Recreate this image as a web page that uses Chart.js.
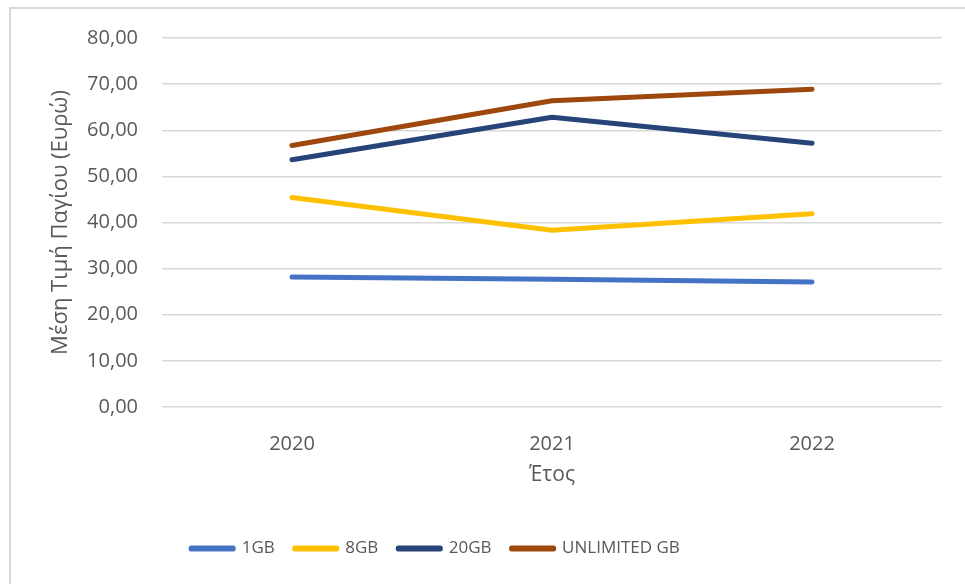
<!DOCTYPE html>
<html>
<head>
<meta charset="utf-8">
<script src="https://cdn.jsdelivr.net/npm/chart.js@4"></script>
<style>
body{margin:0;background:#fff;}
#wrap{position:relative;width:965px;height:584px;overflow:hidden;background:#fff;}
#frame{position:absolute;left:9px;top:7px;width:1000px;height:1000px;border:2px solid #d9d9d9;box-sizing:border-box;}
#emiChart{position:absolute;left:0;top:0;}
</style>
</head>
<body>
<div id="wrap">
<div id="frame"></div>
<canvas id="emiChart" width="965" height="584"></canvas>
</div>
<script>
const years=["2020","2021","2022"];

const gb1=[28.2,27.7,27.1];
const gb8=[45.4,38.3,41.9];
const gb20=[53.6,62.8,57.2];
const unlimited=[56.7,66.4,68.9];

const seriesNames=["1GB","8GB","20GB","UNLIMITED GB"];
const seriesColors=["#4472c4","#ffc000","#264478","#9e480e"];

const yTitle="Μέση Τιμή Παγίου (Ευρώ)";
const xTitle="Έτος";

const ctx=document.getElementById("emiChart");

const textColor="#595959";
const fontFamily="'Open Sans', sans-serif";

function makeSet(i,data){
return {
label:seriesNames[i],
data:data,
borderColor:seriesColors[i],
backgroundColor:seriesColors[i],
borderWidth:5,
borderCapStyle:'round',
borderJoinStyle:'round',
pointRadius:0,
pointHoverRadius:0,
tension:0
};
}

// move legend so it sits where the original one was
const legendShift={
id:'legendShift',
beforeDraw(chart){
const l=chart.legend;
l.left=10;
l.right=861;
}
};

new Chart(ctx,{
type:'line',
data:{
labels:years,
datasets:[makeSet(0,gb1),makeSet(1,gb8),makeSet(2,gb20),makeSet(3,unlimited)]
},
plugins:[legendShift],
options:{
responsive:false,
animation:false,
layout:{padding:{left:10,right:23,top:38,bottom:17}},
scales:{
x:{
offset:true,
grid:{display:false},
border:{display:false},
ticks:{color:textColor,font:{family:fontFamily,size:20},padding:17},
title:{display:true,text:xTitle,color:textColor,font:{family:fontFamily,size:21},padding:{top:0,bottom:32}},
afterFit(scale){scale.height=113;}
},
y:{
min:0,
max:80,
grid:{color:'#d9d9d9',lineWidth:1.5,drawTicks:false},
border:{display:false},
ticks:{
stepSize:10,
color:textColor,
font:{family:fontFamily,size:20},
padding:24,
callback:(v)=>v.toFixed(2).replace('.',',')
},
title:{display:true,text:yTitle,color:textColor,font:{family:fontFamily,size:22},padding:{top:38,bottom:0}},
afterFit(scale){scale.width=152;}
}
},
plugins:{
legend:{
display:true,
position:'bottom',
labels:{
color:textColor,
font:{family:fontFamily,size:17},
boxWidth:42,
boxHeight:1,
padding:20
}
},
tooltip:{enabled:false}
}
}
});
</script>
</body>
</html>
